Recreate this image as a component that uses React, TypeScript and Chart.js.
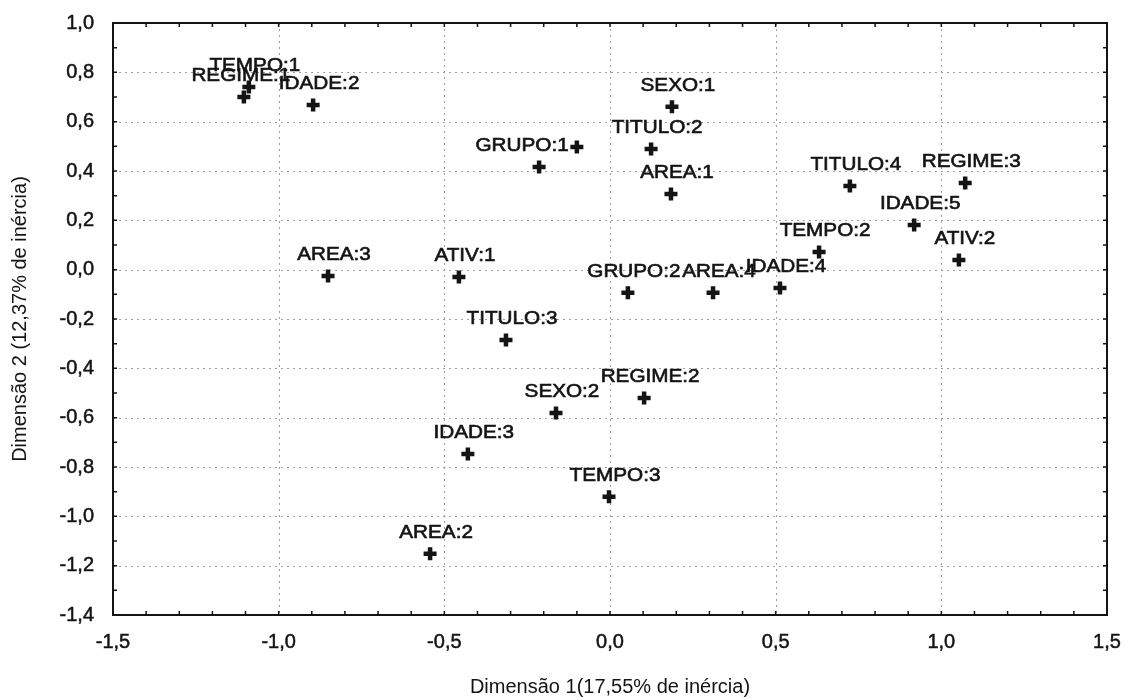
import React, { useEffect, useRef } from "react";
import { Chart, registerables } from "chart.js";

Chart.register(...registerables);

// ---- data ----
const pointNames: string[] = [
  "TEMPO:1", "REGIME:1", "IDADE:2", "SEXO:1", "", "TITULO:2", "GRUPO:1", "AREA:1",
  "TITULO:4", "REGIME:3", "IDADE:5", "TEMPO:2", "ATIV:2", "IDADE:4", "GRUPO:2", "AREA:4",
  "AREA:3", "ATIV:1", "TITULO:3", "REGIME:2", "SEXO:2", "IDADE:3", "TEMPO:3", "AREA:2",
];
const dim1: number[] = [
  -1.09, -1.105, -0.896, 0.187, -0.1, 0.124, -0.214, 0.184,
  0.724, 1.072, 0.918, 0.631, 1.053, 0.513, 0.054, 0.311,
  -0.851, -0.456, -0.314, 0.103, -0.163, -0.429, -0.003, -0.543,
];
const dim2: number[] = [
  0.741, 0.7, 0.668, 0.66, 0.497, 0.489, 0.416, 0.307,
  0.339, 0.351, 0.181, 0.072, 0.039, -0.074, -0.094, -0.094,
  -0.026, -0.03, -0.285, -0.52, -0.581, -0.747, -0.921, -1.152,
];
const xTickValues: number[] = [-1.5, -1.0, -0.5, 0.0, 0.5, 1.0, 1.5];
const yTickValues: number[] = [-1.4, -1.2, -1.0, -0.8, -0.6, -0.4, -0.2, 0.0, 0.2, 0.4, 0.6, 0.8, 1.0];
const xTitle = "Dimensão 1(17,55% de inércia)";
const yTitle = "Dimensão 2 (12,37% de inércia)";

const FONT = "'Liberation Sans', Arial, sans-serif";
const INK = "#141414";

const fmt = (v: number) => (Math.abs(v) < 1e-9 ? 0 : v).toFixed(1).replace(".", ",");

const decorPlugin = {
  id: "decor",
  beforeDatasetsDraw(chart: any) {
    const { ctx, chartArea: a, scales } = chart;
    ctx.save();
    ctx.strokeStyle = "#a0a0a0";
    ctx.lineWidth = 1;
    ctx.setLineDash([2, 4]);
    scales.x.ticks.forEach((t: any) => {
      const px = Math.round(scales.x.getPixelForValue(t.value)) + 0.5;
      if (px <= a.left + 2 || px >= a.right - 2) return;
      ctx.beginPath();
      ctx.moveTo(px, a.top);
      ctx.lineTo(px, a.bottom);
      ctx.stroke();
    });
    scales.y.ticks.forEach((t: any) => {
      const py = Math.round(scales.y.getPixelForValue(t.value)) + 0.5;
      if (py <= a.top + 2 || py >= a.bottom - 2) return;
      ctx.beginPath();
      ctx.moveTo(a.left, py);
      ctx.lineTo(a.right, py);
      ctx.stroke();
    });
    ctx.restore();
  },
  afterDatasetsDraw(chart: any, _args: any, opts: any) {
    const { ctx, chartArea: a, scales } = chart;
    ctx.save();
    // frame
    ctx.strokeStyle = INK;
    ctx.lineWidth = 2;
    ctx.setLineDash([]);
    ctx.strokeRect(a.left, a.top, a.right - a.left, a.bottom - a.top);
    // minor inner ticks
    ctx.lineWidth = 1.5;
    const xmin = scales.x.min, xmax = scales.x.max;
    for (let i = Math.round(xmin * 10); i <= Math.round(xmax * 10); i++) {
      const px = scales.x.getPixelForValue(i / 10);
      ctx.beginPath();
      ctx.moveTo(px, a.bottom);
      ctx.lineTo(px, a.bottom - 4);
      ctx.moveTo(px, a.top);
      ctx.lineTo(px, a.top + 4);
      ctx.stroke();
    }
    const ymin = scales.y.min, ymax = scales.y.max;
    for (let i = Math.round(ymin * 10); i <= Math.round(ymax * 10); i++) {
      const py = scales.y.getPixelForValue(i / 10);
      ctx.beginPath();
      ctx.moveTo(a.left, py);
      ctx.lineTo(a.left + 4, py);
      ctx.moveTo(a.right, py);
      ctx.lineTo(a.right - 4, py);
      ctx.stroke();
    }
    // point labels
    const meta = chart.getDatasetMeta(0);
    const nudges = opts.nudges || {};
    ctx.fillStyle = INK;
    ctx.strokeStyle = INK;
    ctx.lineWidth = 0.6;
    ctx.font = `18px ${FONT}`;
    ctx.textAlign = "center";
    ctx.textBaseline = "alphabetic";
    meta.data.forEach((el: any, i: number) => {
      const name = pointNames[i];
      if (!name) return;
      const dx = 6 + (nudges[name] || 0);
      ctx.save();
      ctx.translate(el.x + dx, el.y - 16);
      ctx.scale(1.15, 1);
      ctx.fillText(name, 0, 0);
      ctx.strokeText(name, 0, 0);
      ctx.restore();
    });
    ctx.restore();
  },
};

export default function App() {
  const canvasRef = useRef<HTMLCanvasElement | null>(null);

  useEffect(() => {
    if (!canvasRef.current) return;
    const data = dim1.map((x, i) => ({ x, y: dim2[i] }));
    const chart = new Chart(canvasRef.current, {
      type: "scatter",
      data: {
        datasets: [
          {
            label: "Categorias",
            data,
            pointStyle: "cross",
            pointRadius: 6.5,
            pointBorderWidth: 4.5,
            borderColor: INK,
            backgroundColor: INK,
          },
        ],
      },
      options: {
        responsive: true,
        maintainAspectRatio: false,
        animation: false,
        events: [],
        layout: { padding: { top: 23, right: 17, left: 0, bottom: 0 } },
        plugins: {
          legend: { display: false },
          tooltip: { enabled: false },
          decor: { nudges: { "GRUPO:1": -23, "REGIME:1": -9 } },
        } as any,
        scales: {
          x: {
            type: "linear",
            min: -1.5,
            max: 1.5,
            afterBuildTicks: (s: any) => {
              s.ticks = xTickValues.map((v) => ({ value: v }));
            },
            afterFit: (s: any) => {
              s.height = 84;
              s.paddingLeft = 0;
              s.paddingRight = 0;
            },
            grid: { display: false, drawTicks: false },
            border: { display: false },
            ticks: {
              padding: 15,
              color: INK,
              textStrokeColor: INK,
              textStrokeWidth: 0.5,
              font: { family: FONT, size: 20 },
              maxRotation: 0,
              autoSkip: false,
              callback: (v: any) => fmt(Number(v)),
            } as any,
            title: {
              display: true,
              text: xTitle,
              color: INK,
              font: { family: FONT, size: 20 },
              padding: { top: 0, bottom: 0 },
            },
          },
          y: {
            type: "linear",
            min: -1.4,
            max: 1.0,
            afterBuildTicks: (s: any) => {
              s.ticks = yTickValues.map((v) => ({ value: v }));
            },
            afterFit: (s: any) => {
              s.width = 113;
              s.paddingTop = 0;
              s.paddingBottom = 0;
            },
            grid: { display: false, drawTicks: false },
            border: { display: false },
            ticks: {
              padding: 19,
              color: INK,
              textStrokeColor: INK,
              textStrokeWidth: 0.5,
              font: { family: FONT, size: 20 },
              autoSkip: false,
              callback: (v: any) => fmt(Number(v)),
            } as any,
            title: {
              display: true,
              text: yTitle,
              color: INK,
              font: { family: FONT, size: 20 },
              padding: { top: 8, bottom: 0 },
            },
          },
        },
      },
      plugins: [decorPlugin],
    });
    return () => chart.destroy();
  }, []);

  return (
    <div
      style={{
        position: "fixed",
        left: 0,
        top: 0,
        width: 1124,
        height: 699,
        background: "#ffffff",
      }}
    >
      <canvas ref={canvasRef} />
    </div>
  );
}
